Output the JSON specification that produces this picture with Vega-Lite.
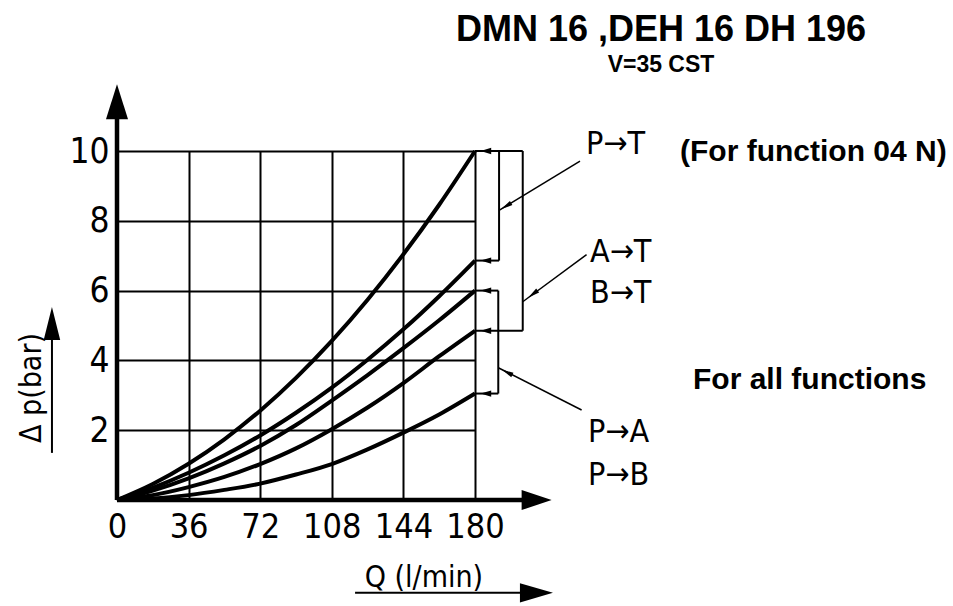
{
  "$schema": "https://vega.github.io/schema/vega-lite/v6.json",
  "width": 358,
  "height": 349,
  "autosize": {"type": "none"},
  "padding": {"left": 117, "top": 151, "right": 478, "bottom": 106},
  "background": "white",
  "config": {"view": {"stroke": null}, "font": "Liberation Sans"},
  "title": {
    "text": "DMN 16 ,DEH 16 DH 196",
    "subtitle": "V=35 CST",
    "anchor": "middle",
    "frame": "group",
    "dx": 365,
    "offset": 6,
    "font": "Liberation Sans",
    "fontSize": 36,
    "fontWeight": "bold",
    "color": "black",
    "subtitleFont": "Liberation Sans",
    "subtitleFontSize": 23,
    "subtitleFontWeight": "bold",
    "subtitleColor": "black",
    "subtitlePadding": 5
  },
  "datasets": {
    "curves": [
      {"series": "c1", "Q": 0, "dp": 0}, {"series": "c1", "Q": 18, "dp": 0.46}, {"series": "c1", "Q": 36, "dp": 1.04}, {"series": "c1", "Q": 54, "dp": 1.74}, {"series": "c1", "Q": 72, "dp": 2.56}, {"series": "c1", "Q": 90, "dp": 3.5}, {"series": "c1", "Q": 108, "dp": 4.56}, {"series": "c1", "Q": 126, "dp": 5.74}, {"series": "c1", "Q": 144, "dp": 7.04}, {"series": "c1", "Q": 162, "dp": 8.46}, {"series": "c1", "Q": 180, "dp": 10},
      {"series": "c2", "Q": 0, "dp": 0}, {"series": "c2", "Q": 18, "dp": 0.35}, {"series": "c2", "Q": 36, "dp": 0.78}, {"series": "c2", "Q": 54, "dp": 1.28}, {"series": "c2", "Q": 72, "dp": 1.85}, {"series": "c2", "Q": 90, "dp": 2.5}, {"series": "c2", "Q": 108, "dp": 3.22}, {"series": "c2", "Q": 126, "dp": 4.02}, {"series": "c2", "Q": 144, "dp": 4.89}, {"series": "c2", "Q": 162, "dp": 5.84}, {"series": "c2", "Q": 180, "dp": 6.86},
      {"series": "c3", "Q": 0, "dp": 0}, {"series": "c3", "Q": 18, "dp": 0.27}, {"series": "c3", "Q": 36, "dp": 0.62}, {"series": "c3", "Q": 54, "dp": 1.05}, {"series": "c3", "Q": 72, "dp": 1.55}, {"series": "c3", "Q": 90, "dp": 2.15}, {"series": "c3", "Q": 108, "dp": 2.85}, {"series": "c3", "Q": 126, "dp": 3.58}, {"series": "c3", "Q": 144, "dp": 4.35}, {"series": "c3", "Q": 162, "dp": 5.15}, {"series": "c3", "Q": 180, "dp": 6.0},
      {"series": "c4", "Q": 0, "dp": 0}, {"series": "c4", "Q": 18, "dp": 0.14}, {"series": "c4", "Q": 36, "dp": 0.37}, {"series": "c4", "Q": 54, "dp": 0.66}, {"series": "c4", "Q": 72, "dp": 1.03}, {"series": "c4", "Q": 90, "dp": 1.48}, {"series": "c4", "Q": 108, "dp": 2.03}, {"series": "c4", "Q": 126, "dp": 2.65}, {"series": "c4", "Q": 144, "dp": 3.35}, {"series": "c4", "Q": 162, "dp": 4.12}, {"series": "c4", "Q": 180, "dp": 4.85},
      {"series": "c5", "Q": 0, "dp": 0}, {"series": "c5", "Q": 18, "dp": 0.04}, {"series": "c5", "Q": 36, "dp": 0.14}, {"series": "c5", "Q": 54, "dp": 0.29}, {"series": "c5", "Q": 72, "dp": 0.47}, {"series": "c5", "Q": 90, "dp": 0.73}, {"series": "c5", "Q": 108, "dp": 1.03}, {"series": "c5", "Q": 126, "dp": 1.45}, {"series": "c5", "Q": 144, "dp": 1.93}, {"series": "c5", "Q": 162, "dp": 2.45}, {"series": "c5", "Q": 180, "dp": 3.05}
    ],
    "brackets": [
      {"x": 180, "y": 10, "x2": 204, "y2": 10},
      {"x": 192.1, "y": 10, "x2": 192.1, "y2": 6.86},
      {"x": 180, "y": 6.86, "x2": 192.1, "y2": 6.86},
      {"x": 204, "y": 10, "x2": 204, "y2": 4.85},
      {"x": 180, "y": 4.85, "x2": 204, "y2": 4.85},
      {"x": 191.7, "y": 6.0, "x2": 191.7, "y2": 3.05},
      {"x": 180, "y": 6.0, "x2": 191.7, "y2": 6.0},
      {"x": 180, "y": 3.05, "x2": 191.7, "y2": 3.05}
    ],
    "leaders": [
      {"x": 232.8, "y": 9.71, "x2": 192.1, "y2": 8.30},
      {"x": 236.1, "y": 7.03, "x2": 204.0, "y2": 5.68},
      {"x": 233.6, "y": 2.58, "x2": 191.7, "y2": 3.79}
    ],
    "axislines": [
      {"x": 0, "y": 0, "x2": 0, "y2": 11.0},
      {"x": 0, "y": 0, "x2": 207, "y2": 0}
    ],
    "titlelines": [
      {"x": -32.7, "y": 1.35, "x2": -32.7, "y2": 5.0},
      {"x": 119.7, "y": -2.66, "x2": 210, "y2": -2.66}
    ],
    "ends": [
      {"x": 185.5, "y": 10}, {"x": 185.5, "y": 6.86}, {"x": 185.5, "y": 6.0}, {"x": 185.5, "y": 4.85}, {"x": 185.5, "y": 3.05}
    ],
    "labels": [
      {"text": "P→T", "x": 235.8, "y": 10.19},
      {"text": "A→T", "x": 237.8, "y": 7.12},
      {"text": "B→T", "x": 237.8, "y": 5.94},
      {"text": "P→A", "x": 236.8, "y": 1.96},
      {"text": "P→B", "x": 236.8, "y": 0.72}
    ],
    "notes": [
      {"text": "(For function 04 N)", "x": 283.1, "y": 9.96},
      {"text": "For all functions", "x": 289.6, "y": 3.44}
    ]
  },
  "layer": [
    {
      "data": {"name": "curves"},
      "mark": {"type": "line", "color": "black", "strokeWidth": 4, "interpolate": "monotone", "clip": false},
      "encoding": {
        "x": {"field": "Q", "type": "quantitative", "scale": {"domain": [0, 180], "nice": false, "zero": false},
          "axis": {"values": [0, 36, 72, 108, 144, 180], "title": null, "grid": true, "gridColor": "black", "gridWidth": 2, "gridOpacity": 1, "domain": false, "ticks": false, "labelFont": "Liberation Sans Narrow, DejaVu Sans Condensed, sans-serif", "labelFontSize": 34, "labelColor": "black", "labelPadding": 10, "labelFlush": false, "labelOverlap": false}},
        "y": {"field": "dp", "type": "quantitative", "scale": {"domain": [0, 10], "nice": false, "zero": false},
          "axis": {"values": [2, 4, 6, 8, 10], "title": null, "grid": true, "gridColor": "black", "gridWidth": 2, "gridOpacity": 1, "domain": false, "ticks": false, "labelFont": "Liberation Sans Narrow, DejaVu Sans Condensed, sans-serif", "labelFontSize": 35, "labelColor": "black", "labelPadding": 8, "labelOverlap": false}},
        "detail": {"field": "series", "type": "nominal"}
      }
    },
    {
      "data": {"name": "axislines"},
      "mark": {"type": "rule", "color": "black", "strokeWidth": 4.5},
      "encoding": {"x": {"field": "x", "type": "quantitative"}, "y": {"field": "y", "type": "quantitative"}, "x2": {"field": "x2"}, "y2": {"field": "y2"}}
    },
    {
      "data": {"name": "brackets"},
      "mark": {"type": "rule", "color": "black", "strokeWidth": 2},
      "encoding": {"x": {"field": "x", "type": "quantitative"}, "y": {"field": "y", "type": "quantitative"}, "x2": {"field": "x2"}, "y2": {"field": "y2"}}
    },
    {
      "data": {"name": "leaders"},
      "mark": {"type": "rule", "color": "black", "strokeWidth": 1.5},
      "encoding": {"x": {"field": "x", "type": "quantitative"}, "y": {"field": "y", "type": "quantitative"}, "x2": {"field": "x2"}, "y2": {"field": "y2"}}
    },
    {
      "data": {"name": "titlelines"},
      "mark": {"type": "rule", "color": "black", "strokeWidth": 2},
      "encoding": {"x": {"field": "x", "type": "quantitative"}, "y": {"field": "y", "type": "quantitative"}, "x2": {"field": "x2"}, "y2": {"field": "y2"}}
    },
    {
      "data": {"values": [{"x": 0, "y": 11.41}]},
      "mark": {"type": "point", "shape": "M0,-1L0.63,1L-0.63,1Z", "size": 1225, "filled": true, "color": "black", "opacity": 1},
      "encoding": {"x": {"field": "x", "type": "quantitative"}, "y": {"field": "y", "type": "quantitative"}}
    },
    {
      "data": {"values": [{"x": 211.0, "y": 0}]},
      "mark": {"type": "point", "shape": "M1,0L-1,0.67L-1,-0.67Z", "size": 900, "filled": true, "color": "black", "opacity": 1},
      "encoding": {"x": {"field": "x", "type": "quantitative"}, "y": {"field": "y", "type": "quantitative"}}
    },
    {
      "data": {"values": [{"x": -32.7, "y": 5.06}]},
      "mark": {"type": "point", "shape": "M0,-1L0.5,1L-0.5,1Z", "size": 1089, "filled": true, "color": "black", "opacity": 1},
      "encoding": {"x": {"field": "x", "type": "quantitative"}, "y": {"field": "y", "type": "quantitative"}}
    },
    {
      "data": {"values": [{"x": 210.9, "y": -2.66}]},
      "mark": {"type": "point", "shape": "M1,0L-1,0.58L-1,-0.58Z", "size": 1089, "filled": true, "color": "black", "opacity": 1},
      "encoding": {"x": {"field": "x", "type": "quantitative"}, "y": {"field": "y", "type": "quantitative"}}
    },
    {
      "data": {"name": "ends"},
      "mark": {"type": "point", "shape": "M-1,0L1,-0.6L1,0.6Z", "size": 110, "filled": true, "color": "black", "opacity": 1},
      "encoding": {"x": {"field": "x", "type": "quantitative"}, "y": {"field": "y", "type": "quantitative"}}
    },
    {
      "data": {"values": [{"x": 195.6, "y": 8.42}]},
      "mark": {"type": "point", "shape": "M0,-1L0.4,1L-0.4,1Z", "size": 144, "angle": 238.9, "filled": true, "color": "black", "opacity": 1},
      "encoding": {"x": {"field": "x", "type": "quantitative"}, "y": {"field": "y", "type": "quantitative"}}
    },
    {
      "data": {"values": [{"x": 209.1, "y": 5.90}]},
      "mark": {"type": "point", "shape": "M0,-1L0.4,1L-0.4,1Z", "size": 144, "angle": 232.9, "filled": true, "color": "black", "opacity": 1},
      "encoding": {"x": {"field": "x", "type": "quantitative"}, "y": {"field": "y", "type": "quantitative"}}
    },
    {
      "data": {"values": [{"x": 196.1, "y": 3.66}]},
      "mark": {"type": "point", "shape": "M0,-1L0.4,1L-0.4,1Z", "size": 144, "angle": 297.2, "filled": true, "color": "black", "opacity": 1},
      "encoding": {"x": {"field": "x", "type": "quantitative"}, "y": {"field": "y", "type": "quantitative"}}
    },
    {
      "data": {"name": "labels"},
      "mark": {"type": "text", "align": "left", "baseline": "middle", "font": "Liberation Sans Narrow, DejaVu Sans Condensed, sans-serif", "fontSize": 32, "color": "black"},
      "encoding": {"x": {"field": "x", "type": "quantitative"}, "y": {"field": "y", "type": "quantitative"}, "text": {"field": "text"}}
    },
    {
      "data": {"name": "notes"},
      "mark": {"type": "text", "align": "left", "baseline": "middle", "font": "Liberation Sans", "fontWeight": "bold", "fontSize": 30, "color": "black"},
      "encoding": {"x": {"field": "x", "type": "quantitative"}, "y": {"field": "y", "type": "quantitative"}, "text": {"field": "text"}}
    },
    {
      "data": {"values": [{"text": "Δ p(bar)", "x": -42.9, "y": 3.21}]},
      "mark": {"type": "text", "align": "center", "baseline": "middle", "angle": 270, "font": "Liberation Sans Narrow, DejaVu Sans Condensed, sans-serif", "fontSize": 30, "color": "black"},
      "encoding": {"x": {"field": "x", "type": "quantitative"}, "y": {"field": "y", "type": "quantitative"}, "text": {"field": "text"}}
    },
    {
      "data": {"values": [{"text": "Q (l/min)", "x": 154.3, "y": -2.5}]},
      "mark": {"type": "text", "align": "center", "baseline": "alphabetic", "font": "Liberation Sans Narrow, DejaVu Sans Condensed, sans-serif", "fontSize": 30, "color": "black"},
      "encoding": {"x": {"field": "x", "type": "quantitative"}, "y": {"field": "y", "type": "quantitative"}, "text": {"field": "text"}}
    }
  ]
}
